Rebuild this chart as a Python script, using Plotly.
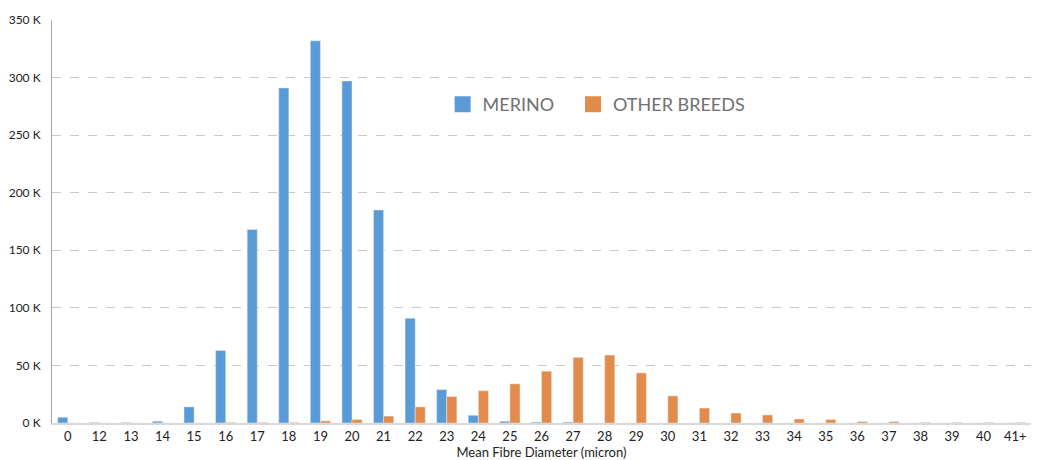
import plotly.graph_objects as go

categories = ["0", "12", "13", "14", "15", "16", "17", "18", "19", "20", "21", "22", "23", "24",
              "25", "26", "27", "28", "29", "30", "31", "32", "33", "34", "35", "36", "37", "38",
              "39", "40", "41+"]
merino = [5000, 500, 500, 1500, 14000, 63000, 168000, 291000, 332000, 297000, 185000, 91000,
          29000, 6700, 1500, 800, 800, 0, 0, 0, 0, 0, 0, 0, 0, 0, 0, 0, 0, 0, 0]
other = [0, 0, 0, 0, 0, 500, 500, 500, 1800, 3000, 6000, 14000, 23000, 28000, 34000, 45000,
         57000, 59000, 43500, 23500, 13000, 8700, 7000, 3500, 3000, 1200, 1200, 500, 500, 500, 500]
ytick_vals = [0, 50000, 100000, 150000, 200000, 250000, 300000, 350000]
ytick_text = ["0 K", "50 K", "100 K", "150 K", "200 K", "250 K", "300 K", "350 K"]
series_names = ["MERINO", "OTHER BREEDS"]
series_colors = ["#5B9BD5", "#E38B4B"]

fig = go.Figure()
for name, vals, col in zip(series_names, [merino, other], series_colors):
    fig.add_trace(go.Bar(x=categories, y=vals, name=name, marker_color=col,
                         showlegend=False, legendgroup=name))
for name, col in zip(series_names, series_colors):
    fig.add_trace(go.Scatter(x=[None], y=[None], mode="markers", name=name + "   ",
                             legendgroup=name,
                             marker=dict(symbol="square", size=20, color=col)))

fig.update_layout(
    width=1036, height=452,
    margin=dict(l=44, r=13, t=12, b=37),
    plot_bgcolor="white", paper_bgcolor="white",
    font=dict(family="Lato, Noto Sans, sans-serif", size=13, color="#222222"),
    barmode="group", bargap=0.36, bargroupgap=0,
    showlegend=True,
    legend=dict(orientation="h", x=0.399, xanchor="left", y=0.79, yanchor="middle",
                font=dict(size=18, color="#707070"), itemsizing="trace", itemwidth=30,
                bgcolor="rgba(0,0,0,0)"),
)
fig.update_xaxes(
    type="category", showgrid=False, showline=True, linecolor="#D9D9D9", linewidth=2,
    ticks="", tickfont=dict(size=13, color="#222222"), automargin=False,
    title=dict(text="Mean Fibre Diameter (micron)", font=dict(size=13, color="#222222"), standoff=2),
)
fig.update_yaxes(
    range=[0, 350000], tickvals=ytick_vals, ticktext=ytick_text,
    showgrid=True, gridcolor="#C8C8C8", griddash="dash", gridwidth=1,
    showline=True, linecolor="#A6A6A6", linewidth=1, zeroline=False, automargin=False,
    ticks="", ticklabelstandoff=8, tickfont=dict(size=12, color="#222222"),
)

fig.write_html("out.html")
